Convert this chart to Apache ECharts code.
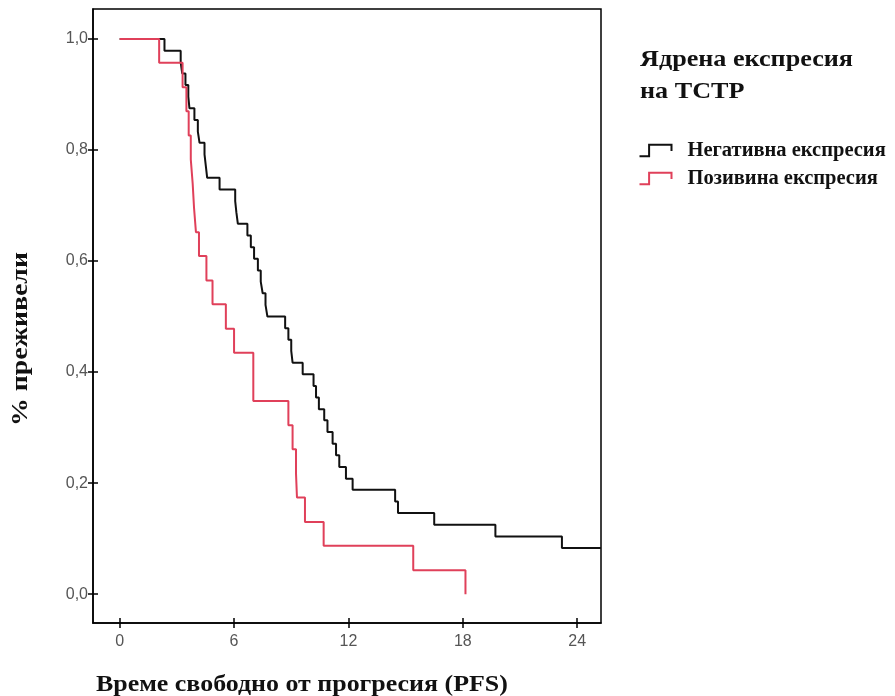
<!DOCTYPE html>
<html>
<head>
<meta charset="utf-8">
<script src="https://cdn.jsdelivr.net/npm/echarts@6/dist/echarts.min.js"></script>
<style>html,body{margin:0;padding:0;background:#fff}#c{width:895px;height:696px}</style>
</head>
<body>
<div id="c"></div>
<script>
// Negative expression (black)
const timesNeg = [0, 2.35, 3.2, 3.28, 3.45, 3.6, 3.66, 3.92, 4.1, 4.19, 4.45, 4.52, 4.59, 5.24, 6.06, 6.12, 6.2, 6.7, 6.88, 7.05, 7.25, 7.4, 7.5, 7.65, 7.75, 8.68, 8.85, 9.0, 9.07, 9.6, 10.17, 10.3, 10.45, 10.73, 10.9, 11.17, 11.35, 11.52, 11.87, 12.22, 14.45, 14.6, 16.5, 19.71, 23.2, 25.25];
const survNeg  = [1, 0.979, 0.958, 0.938, 0.917, 0.896, 0.875, 0.854, 0.833, 0.813, 0.792, 0.771, 0.75, 0.729, 0.708, 0.688, 0.667, 0.646, 0.625, 0.604, 0.583, 0.563, 0.542, 0.521, 0.5, 0.479, 0.458, 0.438, 0.417, 0.396, 0.375, 0.354, 0.333, 0.313, 0.292, 0.271, 0.25, 0.229, 0.208, 0.188, 0.167, 0.146, 0.125, 0.104, 0.083, 0.083];
// Positive expression (red)
const timesPos = [0, 2.07, 3.3, 3.5, 3.62, 3.73, 3.83, 3.9, 4.0, 4.16, 4.55, 4.87, 5.57, 6.0, 7.01, 8.85, 9.07, 9.25, 9.3, 9.72, 10.7, 15.4, 18.14];
const survPos  = [1, 0.957, 0.913, 0.870, 0.826, 0.783, 0.739, 0.696, 0.652, 0.609, 0.565, 0.522, 0.478, 0.435, 0.348, 0.304, 0.261, 0.217, 0.174, 0.130, 0.087, 0.043, 0];

const seriesNames = ['Негативна експресия', 'Позивина експресия'];
const xTicks = [0, 6, 12, 18, 24];
const yTicks = [0, 0.2, 0.4, 0.6, 0.8, 1.0];
const xTitle = 'Време свободно от прогресия (PFS)';
const yTitle = '% преживели';
const legendTitleLines = ['Ядрена експресия', 'на ТСТР'];

const X_MIN = -1.4, X_MAX = 25.25, Y_MIN = -0.052, Y_MAX = 1.054;
const serif = '"Liberation Serif", "DejaVu Serif", serif';
const sans = '"Liberation Sans", Arial, sans-serif';

const chart = echarts.init(document.getElementById('c'), null, {renderer: 'canvas'});
const stepIcon = 'path://M0,12L9,12L9,1L30,1L30,7';

function axisBase(type) {
  return {
    type: 'value',
    min: type === 'x' ? X_MIN : Y_MIN,
    max: type === 'x' ? X_MAX : Y_MAX,
    splitLine: {show: false}
  };
}
function serifText(text, x, y, size, sx, extra) {
  return Object.assign({type: 'text', x: x, y: y, scaleX: sx, scaleY: 1,
    style: {text: text, font: 'bold ' + size + 'px ' + serif, fill: '#111', align: 'left', verticalAlign: 'middle'}}, extra || {});
}

const option = {
  backgroundColor: '#fff',
  animation: false,
  grid: {left: 93, top: 9, right: 294, bottom: 73, show: true, borderColor: '#000', borderWidth: 1.5, containLabel: false, outerBoundsMode: 'none'},
  graphic: [
    serifText(legendTitleLines[0], 640, 60, 24, 1.09),
    serifText(legendTitleLines[1], 640, 92, 24, 1.09),
    serifText(xTitle, 96, 685, 24, 1.08),
    {type: 'text', x: 21, y: 339, rotation: Math.PI / 2, scaleX: 1.16, scaleY: 1,
      style: {text: yTitle, font: 'bold 24px ' + serif, fill: '#111', align: 'center', verticalAlign: 'middle'}}
  ],
  legend: {
    orient: 'vertical', left: 632, top: 135, itemWidth: 32, itemHeight: 12, itemGap: 7,
    textStyle: {fontFamily: serif, fontWeight: 'bold', fontSize: 20.5, color: '#111', padding: [0, 0, 0, 11]},
    data: [
      {name: seriesNames[0], icon: stepIcon, itemStyle: {color: 'none', borderColor: '#111', borderWidth: 2}, lineStyle: {opacity: 0}},
      {name: seriesNames[1], icon: stepIcon, itemStyle: {color: 'none', borderColor: '#e0405a', borderWidth: 2}, lineStyle: {opacity: 0}}
    ]
  },
  xAxis: [
    Object.assign(axisBase('x'), {
      position: 'bottom',
      axisLine: {show: true, onZero: false, lineStyle: {color: '#000', width: 1.5}},
      axisTick: {show: true, inside: false, length: 5, customValues: xTicks, lineStyle: {color: '#000', width: 1.5}},
      axisLabel: {show: true, customValues: xTicks, margin: 11, fontFamily: sans, fontSize: 16, color: '#555'}
    }),
    Object.assign(axisBase('x'), {
      position: 'bottom',
      axisLine: {show: false, onZero: false},
      axisTick: {show: true, inside: true, length: 5, customValues: xTicks, lineStyle: {color: '#000', width: 1.5}},
      axisLabel: {show: false}
    })
  ],
  yAxis: [
    Object.assign(axisBase('y'), {
      position: 'left',
      axisLine: {show: true, onZero: false, lineStyle: {color: '#000', width: 1.5}},
      axisTick: {show: true, inside: false, length: 5, customValues: yTicks, lineStyle: {color: '#000', width: 1.5}},
      axisLabel: {show: true, customValues: yTicks, margin: 5, fontFamily: sans, fontSize: 16, color: '#555',
        formatter: v => v.toFixed(1).replace('.', ',')}
    }),
    Object.assign(axisBase('y'), {
      position: 'left',
      axisLine: {show: false, onZero: false},
      axisTick: {show: true, inside: true, length: 5, customValues: yTicks, lineStyle: {color: '#000', width: 1.5}},
      axisLabel: {show: false}
    })
  ],
  series: [
    {
      name: seriesNames[0], type: 'line', step: 'end', showSymbol: false, symbol: 'none',
      xAxisIndex: 0, yAxisIndex: 0,
      lineStyle: {color: '#111', width: 2}, itemStyle: {color: '#111'},
      data: timesNeg.map((t, i) => [t, survNeg[i]])
    },
    {
      name: seriesNames[1], type: 'line', step: 'end', showSymbol: false, symbol: 'none',
      xAxisIndex: 0, yAxisIndex: 0,
      lineStyle: {color: '#e0405a', width: 2}, itemStyle: {color: '#e0405a'},
      data: timesPos.map((t, i) => [t, survPos[i]])
    }
  ]
};
chart.setOption(option);
</script>
</body>
</html>
